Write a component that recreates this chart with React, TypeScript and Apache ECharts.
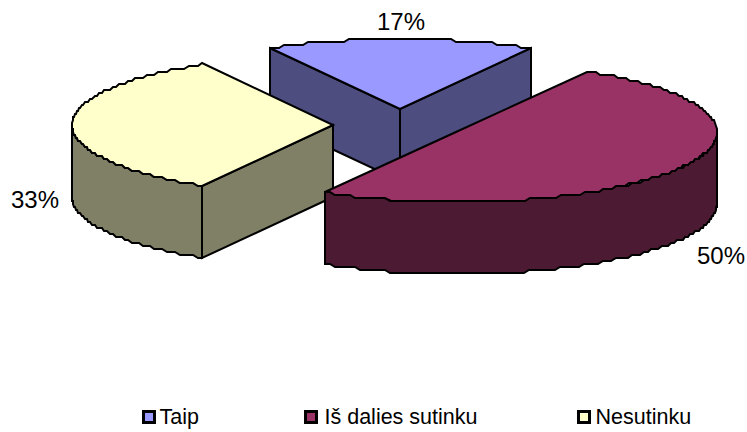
import React, { useEffect, useRef } from "react";
import * as echarts from "echarts";

const categories = ["Taip", "Iš dalies sutinku", "Nesutinku"];
const values = [16.67, 50, 33.33];
const labels = ["17%", "50%", "33%"];

const topColors = ["#9999FF", "#993366", "#FFFFCC"];
const wallColors = ["#4D4D80", "#4D1A33", "#808066"];
const apexes = [[400, 109], [456, 132], [333, 125]];
const labelPos = [[401, 21], [721, 255], [35, 199]];
const legendLeft = [142, 304, 577];
const legendGap = [5, 8, 6];
const drawOrder = [0, 2, 1];

const RX = 261;
const RY = 70;
const DEPTH = 72;
const START = -30;
const FONT = "Liberation Sans, Arial, sans-serif";

const total = values.reduce((a, b) => a + b, 0);
function sliceRange(i: number) {
  let before = 0;
  for (let k = 0; k < i; k++) before += values[k];
  return [START + (before / total) * 360, START + ((before + values[i]) / total) * 360];
}

function arc(cx: number, cy: number, a0: number, a1: number) {
  const pts: number[][] = [];
  const n = Math.max(2, Math.ceil(Math.abs(a1 - a0) / 1.2));
  const G = 3;
  for (let s = 0; s <= n; s++) {
    const a = ((a0 + ((a1 - a0) * s) / n) * Math.PI) / 180;
    const x = Math.round(cx + RX * Math.sin(a));
    const y = Math.round((cy - RY * Math.cos(a)) / G) * G;
    pts.push([x, y]);
  }
  return pts;
}

function facesViewer(normalDeg: number) {
  return Math.cos((normalDeg * Math.PI) / 180) < 0;
}

function renderSlice(i: number) {
  return () => {
    const [cx, cy] = apexes[i];
    const [a0, a1] = sliceRange(i);
    const rim = arc(cx, cy, a0, a1);
    const first = rim[0];
    const last = rim[rim.length - 1];
    const style = { stroke: "#000", lineWidth: 2, lineJoin: "miter" };
    const wall = (pts: number[][]) => ({
      type: "polygon",
      shape: { points: pts },
      style: { ...style, fill: wallColors[i] },
    });
    const children: any[] = [];
    const cut = (p: number[]) => wall([[cx, cy], p, [p[0], p[1] + DEPTH], [cx, cy + DEPTH]]);
    if (facesViewer(a0 - 90)) children.push(cut(first));
    if (facesViewer(a1 + 90)) children.push(cut(last));
    const v0 = Math.max(a0, 90);
    const v1 = Math.min(a1, 270);
    if (v1 > v0) {
      const front = arc(cx, cy, v0, v1);
      const lower = front.map((p) => [p[0], p[1] + DEPTH]).reverse();
      children.push(wall([...front, ...lower]));
    }
    children.push({
      type: "polygon",
      shape: { points: [[cx, cy], ...rim] },
      style: { ...style, fill: topColors[i] },
    });
    children.push({
      type: "text",
      x: labelPos[i][0],
      y: labelPos[i][1],
      style: {
        text: labels[i],
        fill: "#000",
        font: `24px ${FONT}`,
        align: "center",
        verticalAlign: "middle",
      },
    });
    return { type: "group", children };
  };
}

export default function App() {
  const ref = useRef<HTMLDivElement>(null);
  useEffect(() => {
    document.body.style.margin = "0";
    const chart = echarts.init(ref.current!, undefined, { renderer: "svg" });
    chart.setOption({
      animation: false,
      backgroundColor: "#fff",
      legend: categories.map((name, i) => ({
        data: [name],
        left: legendLeft[i],
        top: 406,
        selectedMode: false,
        icon: "rect",
        itemWidth: 11,
        itemHeight: 11,
        itemGap: 0,
        padding: 0,
        itemStyle: { color: topColors[i], borderColor: "#000", borderWidth: 3 },
        textStyle: {
          color: "#000",
          fontSize: 21.5,
          fontFamily: FONT,
          padding: [6, 0, 0, legendGap[i] - 5],
        },
      })),
      series: drawOrder.map((i) => ({
        type: "custom",
        name: categories[i],
        coordinateSystem: "none",
        silent: true,
        itemStyle: { color: topColors[i] },
        data: [[values[i]]],
        renderItem: renderSlice(i),
      })),
    });
    return () => chart.dispose();
  }, []);
  return <div ref={ref} style={{ position: "absolute", left: 0, top: 0, width: 747, height: 432 }} />;
}
